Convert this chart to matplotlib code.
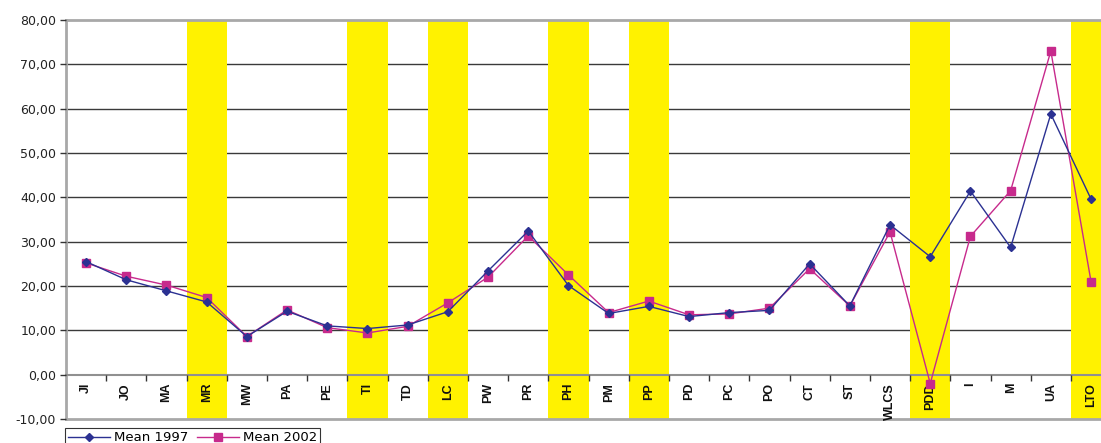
import numpy as np
import matplotlib
matplotlib.use("Agg")
import matplotlib.pyplot as plt
from matplotlib.lines import Line2D

# category codes along the x axis
cats = ['JI', 'JO', 'MA', 'MR', 'MW', 'PA', 'PE', 'TI', 'TD', 'LC', 'PW', 'PR', 'PH',
        'PM', 'PP', 'PD', 'PC', 'PO', 'CT', 'ST', 'WLCS', 'PDD', 'I', 'M', 'UA', 'LTO']
# categories shaded in yellow
highlight = ['MR', 'TI', 'LC', 'PH', 'PP', 'PDD', 'LTO']

mean_1997 = [25.5, 21.4, 18.9, 16.4, 8.6, 14.3, 11.0, 10.4, 11.2, 14.2, 23.4, 32.4, 20.1,
             13.8, 15.4, 13.1, 14.0, 14.5, 25.0, 15.5, 33.8, 26.6, 41.4, 28.7, 58.8, 39.6]
mean_2002 = [25.2, 22.2, 20.2, 17.4, 8.6, 14.6, 10.6, 9.4, 10.9, 16.2, 22.0, 31.3, 22.5,
             14.0, 16.6, 13.5, 13.7, 15.0, 23.9, 15.5, 32.2, -2.0, 31.2, 41.5, 73.0, 21.0]

blue = '#2B3192'
magenta = '#C72A8C'
yellow = '#FFF200'

fig = plt.figure(figsize=(11.01, 4.43), dpi=100)
ax = fig.add_axes([0.0599, 0.0542, 0.9493, 0.9007])

x = np.arange(len(cats))
ax.set_xlim(-0.5, len(cats) - 0.5)
ax.set_ylim(-10, 80)

# grid lines between the frame edges
for yv in range(10, 80, 10):
    ax.axhline(yv, color='#3a3a3a', lw=1.0, zorder=1)

for c in highlight:
    i = cats.index(c)
    ax.axvspan(i - 0.5, i + 0.5, color=yellow, lw=0, zorder=2)

ax.plot(x, mean_1997, color=blue, lw=1.0, marker='D', ms=4.5, mfc=blue, mec=blue,
        zorder=5, label='Mean 1997')
ax.plot(x, mean_2002, color=magenta, lw=1.0, marker='s', ms=5.5, mfc=magenta, mec=magenta,
        zorder=4, label='Mean 2002')

# frame
for s in ['top', 'left']:
    ax.spines[s].set_color('#a8a8a8')
    ax.spines[s].set_linewidth(2)
ax.spines['right'].set_visible(False)
ax.spines['bottom'].set_position(('data', 0))
ax.spines['bottom'].set_color('#909090')
ax.spines['bottom'].set_linewidth(1.5)
ax.spines['bottom'].set_zorder(3)
ax.axhline(-10, color='#a8a8a8', lw=2, zorder=3, clip_on=False)

yt = np.arange(-10, 81, 10)
ax.set_yticks(yt)
ax.set_yticklabels([('%.2f' % v).replace('.', ',') for v in yt],
                   fontsize=9, family='DejaVu Sans', color='#222222')
ax.tick_params(axis='y', length=4, width=1, color='#333333', pad=3)

ax.set_xticks(x)
ax.set_xticklabels(cats, rotation=90, fontsize=9, fontweight='bold',
                   family='Liberation Sans', color='#111111')
ax.set_xticks(x[:-1] + 0.5, minor=True)
ax.tick_params(axis='x', which='major', length=0, pad=6)
ax.tick_params(axis='x', which='minor', length=4, width=1, color='#333333', direction='out')
ax.xaxis.set_zorder(3)
ax.yaxis.set_zorder(3)

handles = [Line2D([], [], color=blue, lw=1.0, marker='D', ms=4.5, mfc=blue, mec=blue),
           Line2D([], [], color=magenta, lw=1.0, marker='s', ms=5.5, mfc=magenta, mec=magenta)]
leg = fig.legend(handles, ['Mean 1997', 'Mean 2002'], loc='upper left',
                 bbox_to_anchor=(0.059, 1 - 428 / 443), ncol=2, frameon=True,
                 fancybox=False, edgecolor='black', borderpad=0.25, handlelength=3.2,
                 handletextpad=0.3, columnspacing=0.6, borderaxespad=0,
                 prop={'family': 'DejaVu Sans', 'size': 9.5})
leg.get_frame().set_linewidth(0.8)

fig.savefig('out.png', dpi=100)
